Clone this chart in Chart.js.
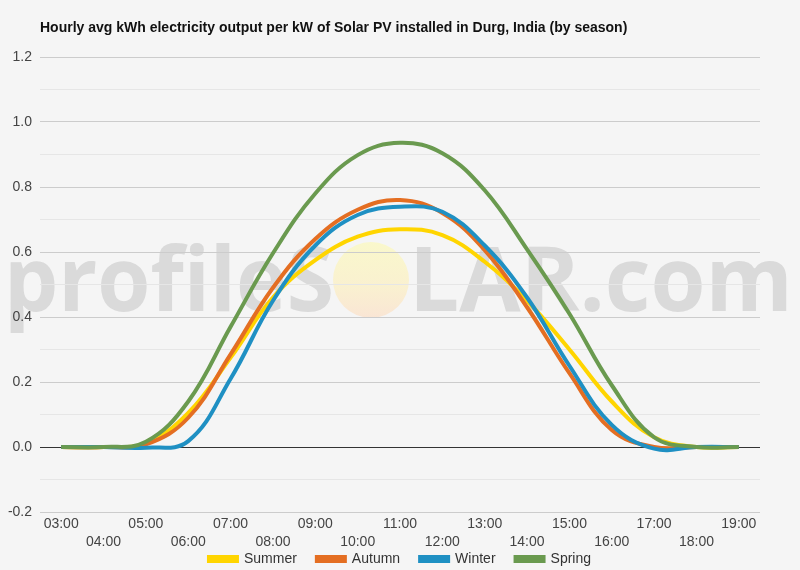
<!DOCTYPE html>
<html>
<head>
<meta charset="utf-8">
<script src="https://cdn.jsdelivr.net/npm/chart.js@4.4.1/dist/chart.umd.min.js"></script>
<style>
html,body{margin:0;padding:0;background:#f5f5f5;}
#wrap{width:800px;height:570px;position:relative;}
</style>
</head>
<body>
<div id="wrap"><canvas id="c" width="800" height="570"></canvas></div>
<script>
const chartTitle = 'Hourly avg kWh electricity output per kW of Solar PV installed in Durg, India (by season)';
const hours = ['03:00','04:00','05:00','06:00','07:00','08:00','09:00','10:00','11:00','12:00','13:00','14:00','15:00','16:00','17:00','18:00','19:00'];
const summer = [0, 0, 0.012, 0.105, 0.275, 0.46, 0.575, 0.647, 0.67, 0.652, 0.57, 0.45, 0.30, 0.14, 0.03, 0, 0];
const autumn = [0, 0, 0.008, 0.09, 0.285, 0.49, 0.64, 0.73, 0.76, 0.72, 0.606, 0.43, 0.227, 0.052, 0, 0, 0];
const winter = [0, 0, -0.002, 0.018, 0.21, 0.45, 0.62, 0.714, 0.739, 0.724, 0.62, 0.46, 0.25, 0.068, -0.005, 0, 0];
const spring = [0, 0, 0.016, 0.14, 0.37, 0.596, 0.78, 0.898, 0.936, 0.904, 0.79, 0.608, 0.41, 0.19, 0.03, 0, 0];
const seriesNames = ['Summer', 'Autumn', 'Winter', 'Spring'];
const seriesColors = ['#FFD500', '#E46E22', '#1F90C3', '#6A9A4F'];
const yMin = -0.2, yMax = 1.2, yStep = 0.1;

const seriesValues = [summer, autumn, winter, spring];
const FONT = '"Liberation Sans", Arial, sans-serif';

const decorPlugin = {
  id: 'decor',
  beforeLayout(chart) {
    const lg = chart.legend;
    if (lg && !lg._patched) {
      const f = lg.fit;
      lg.fit = function () { f.call(this); this.height = 20; };
      lg._patched = true;
    }
  },
  afterLayout(chart) {
    const lg = chart.legend;
    if (lg) {
      lg.left = 0; lg.right = chart.width; lg.width = chart.width;
      lg.top = 532; lg.bottom = chart.height; lg.height = lg.bottom - lg.top;
    }
  },
  beforeDraw(chart) {
    const ctx = chart.ctx;
    ctx.save();
    ctx.fillStyle = '#f5f5f5';
    ctx.fillRect(0, 0, chart.width, chart.height);
    ctx.fillStyle = 'rgba(195,195,195,0.55)';
    ctx.font = 'bold 90px "Open Sans"';
    ctx.textBaseline = 'alphabetic';
    const t1 = 'profileS', t2 = 'LAR.com';
    const w1 = ctx.measureText(t1).width, w2 = ctx.measureText(t2).width;
    ctx.save(); ctx.translate(4, 311); ctx.scale(330 / w1, 1); ctx.fillText(t1, 0, 0); ctx.restore();
    ctx.save(); ctx.translate(409, 311); ctx.scale(384 / w2, 1); ctx.fillText(t2, 0, 0); ctx.restore();
    const g = ctx.createLinearGradient(0, 242, 0, 318);
    g.addColorStop(0, 'rgba(250,248,200,0.92)');
    g.addColorStop(0.6, 'rgba(250,240,205,0.92)');
    g.addColorStop(1, 'rgba(250,228,210,0.92)');
    ctx.fillStyle = g;
    ctx.beginPath(); ctx.arc(371, 280, 38, 0, Math.PI * 2); ctx.fill();
    ctx.restore();
  },
  afterDraw(chart) {
    const ctx = chart.ctx;
    ctx.save();
    ctx.fillStyle = '#111';
    ctx.font = 'bold 14px ' + FONT;
    ctx.textBaseline = 'middle';
    ctx.textAlign = 'left';
    ctx.fillText(chartTitle, 40, 28);
    ctx.restore();
  }
};

new Chart(document.getElementById('c'), {
  type: 'line',
  data: {
    labels: hours,
    datasets: seriesNames.map((n, i) => ({
      label: n,
      data: seriesValues[i],
      borderColor: seriesColors[i],
      backgroundColor: seriesColors[i],
      borderWidth: 4,
      pointRadius: 0,
      pointHoverRadius: 0,
      tension: 0.4,
      fill: false,
      order: 4 - i
    }))
  },
  options: {
    responsive: false,
    animation: false,
    devicePixelRatio: 1,
    layout: { padding: { left: 0, right: 40, top: 57, bottom: 0 } },
    plugins: {
      title: { display: false },
      tooltip: { enabled: false },
      legend: {
        position: 'bottom',
        align: 'center',
        labels: {
          boxWidth: 28,
          boxHeight: 4,
          padding: 20,
          color: '#333',
          font: { size: 14, family: FONT },
          sort: (a, b) => a.datasetIndex - b.datasetIndex
        }
      }
    },
    scales: {
      x: {
        offset: true,
        grid: { display: false, drawTicks: false },
        border: { display: false },
        afterFit(scale) { scale.height = 38; },
        ticks: {
          autoSkip: false,
          maxRotation: 0,
          minRotation: 0,
          padding: 3,
          color: '#444',
          font: { size: 14, family: FONT, lineHeight: 1.3 },
          callback(v, i) { return i % 2 === 0 ? hours[i] : ['', hours[i]]; }
        }
      },
      y: {
        min: yMin,
        max: yMax,
        afterFit(scale) { scale.width = 40; },
        border: { display: false },
        grid: {
          drawTicks: false,
          color(c) {
            const k = Math.round(c.tick.value * 10);
            if (k === 0) return '#333333';
            return k % 2 === 0 ? '#cccccc' : '#e6e6e6';
          },
          lineWidth: 1
        },
        ticks: {
          stepSize: yStep,
          padding: 8,
          color: '#444',
          font: { size: 14, family: FONT },
          callback(v) {
            const k = Math.round(v * 10);
            return k % 2 === 0 ? (k / 10).toFixed(1) : '';
          }
        }
      }
    }
  },
  plugins: [decorPlugin]
});
</script>
</body>
</html>
